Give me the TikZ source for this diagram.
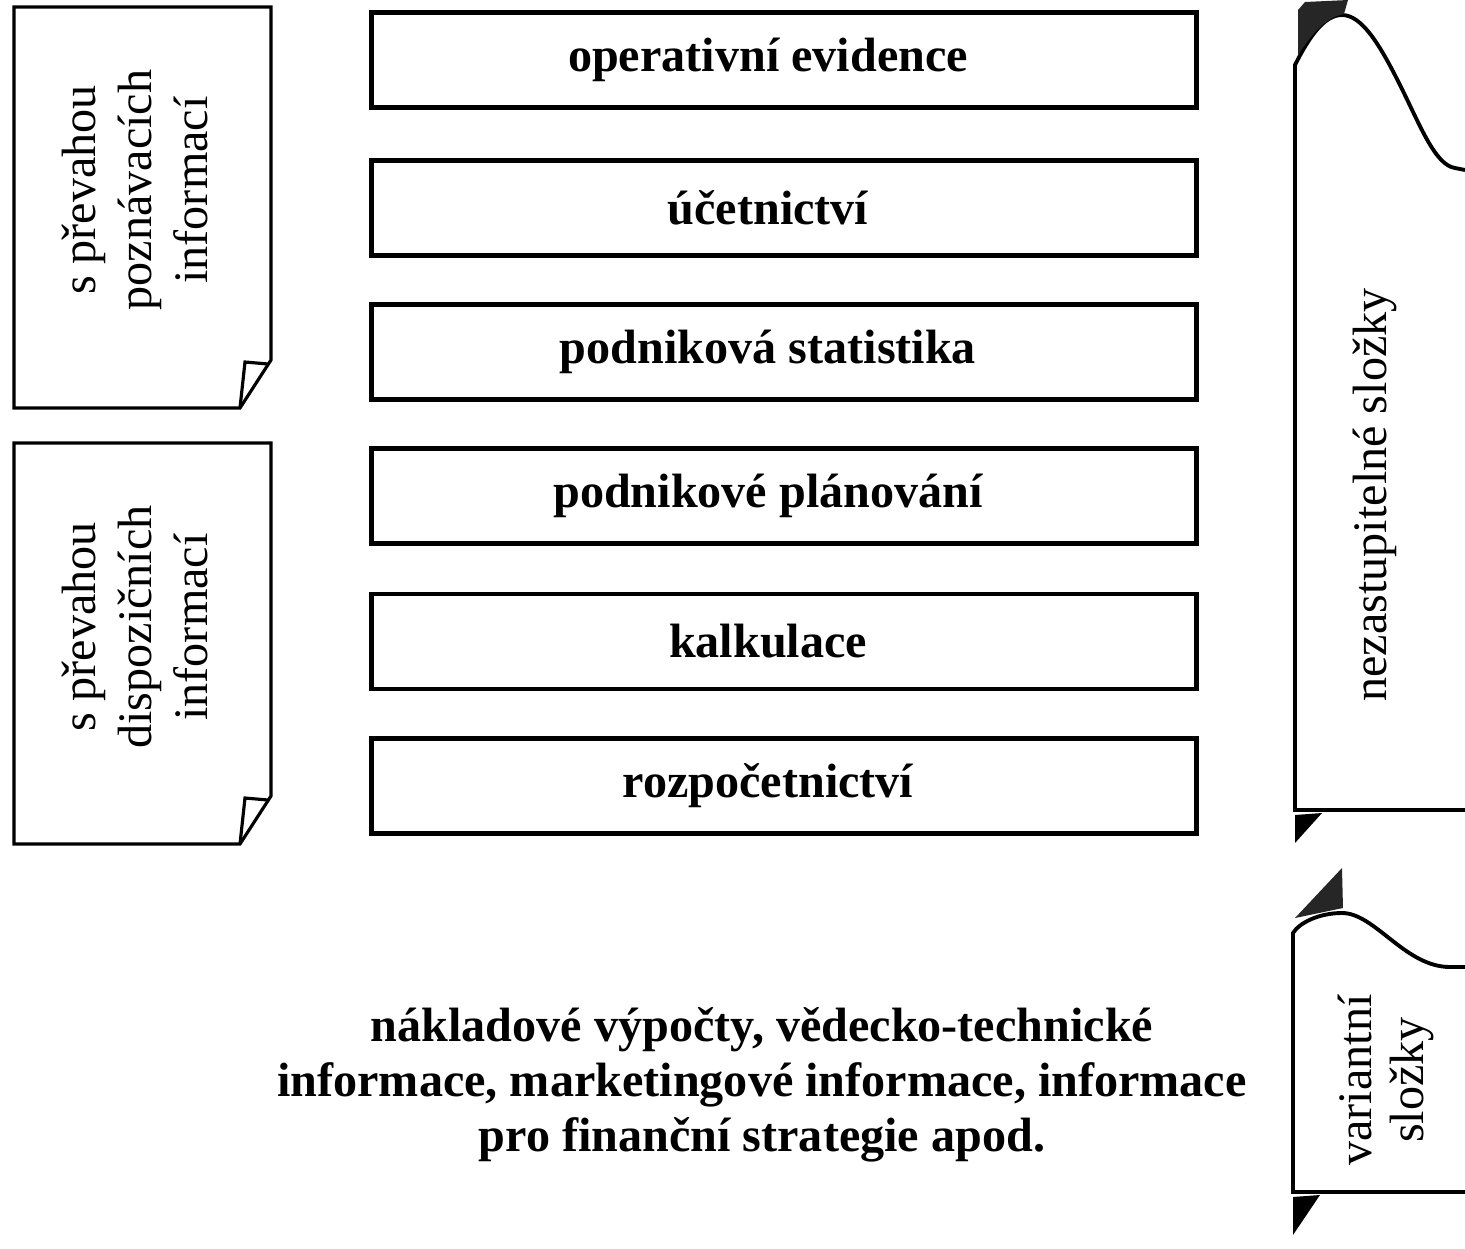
\documentclass[tikz,border=0pt]{standalone}
\usepackage{fontspec}
\setmainfont{Liberation Serif}
\usepackage{tikz}

\begin{document}
\begin{tikzpicture}[box/.style={draw,line width=1.4pt,minimum width=8.25cm,minimum height=0.95cm,font=\fontsize{13.7}{16}\selectfont\bfseries},
	svisly/.style={rotate=90,align=center,font=\fontsize{13.7}{16}\selectfont}]
			\useasboundingbox (0,0) rectangle (14.65,-12.49);
			% Levé poznámky
			\foreach \y in {0,4.36}
			{
			\draw [line width=0.9pt] (0.14,-0.07-\y) -- (2.71,-0.07-\y) -- (2.71,-3.60-\y) -- (2.40,-4.08-\y) -- (0.14,-4.08-\y) -- cycle;
			\draw [line width=0.9pt] (2.40,-4.08-\y) -- (2.45,-3.62-\y) -- (2.68,-3.64-\y);
			}
			\node [svisly] (poznavaci) at (1.35,-1.90) {s převahou\\poznávacích\\informací};
			\node [svisly] (dispozicni) at (1.35,-6.27) {s převahou\\dispozičních\\informací};
			% Obdélníky
			\foreach \y/\t [count=\i] in {0.60/operativní evidence, 2.08/účetnictví, 3.52/podniková statistika, 4.96/podnikové plánování, 6.415/kalkulace, 7.86/rozpočetnictví}
			\node [box] (pole\i) at (7.84,-\y) {\t\kern3.2mm};
			% Text dole
			\node [align=center,font=\fontsize{13.7}{15.6}\selectfont\bfseries] (dalsi) at (7.62,-10.85)
{nákladové výpočty, vědecko-technické\\informace, marketingové informace, informace\\pro finanční strategie apod.};
			% Pravé tvary
			\draw [line width=1.1pt] (14.65,-8.10) -- (12.95,-8.10) -- (12.95,-0.65)
.. controls (13.10,-0.35) and (13.25,-0.15) .. (13.42,-0.15)
.. controls (13.62,-0.15) and (13.80,-0.45) .. (14.00,-0.85)
.. controls (14.20,-1.25) and (14.35,-1.65) .. (14.55,-1.68) -- (14.65,-1.70);
			\fill [black!85] (12.98,-0.55) -- (12.98,-0.10) -- (13.05,-0.02) -- (13.48,0) -- (13.44,-0.14)
.. controls (13.25,-0.17) and (13.10,-0.37) .. (12.98,-0.55);
			\fill (12.95,-8.15) -- (13.22,-8.13) -- (12.95,-8.43) -- cycle;
			\node [svisly] (nezastupitelne) at (13.75,-4.95) {nezastupitelné složky};
			\draw [line width=1.1pt] (14.65,-11.92) -- (12.93,-11.92) -- (12.93,-9.33)
.. controls (13.00,-9.22) and (13.20,-9.13) .. (13.42,-9.13)
.. controls (13.75,-9.13) and (14.05,-9.67) .. (14.50,-9.67) -- (14.65,-9.67);
			\fill [black!85] (13.42,-8.68) -- (13.43,-9.08) -- (12.95,-9.18) -- cycle;
			\fill (12.93,-11.97) -- (13.20,-11.95) -- (12.93,-12.35) -- cycle;
			\node [svisly,font=\fontsize{13.7}{15}\selectfont] (variantni) at (13.86,-10.80) {variantní\\složky};
		\end{tikzpicture}
\end{document}
